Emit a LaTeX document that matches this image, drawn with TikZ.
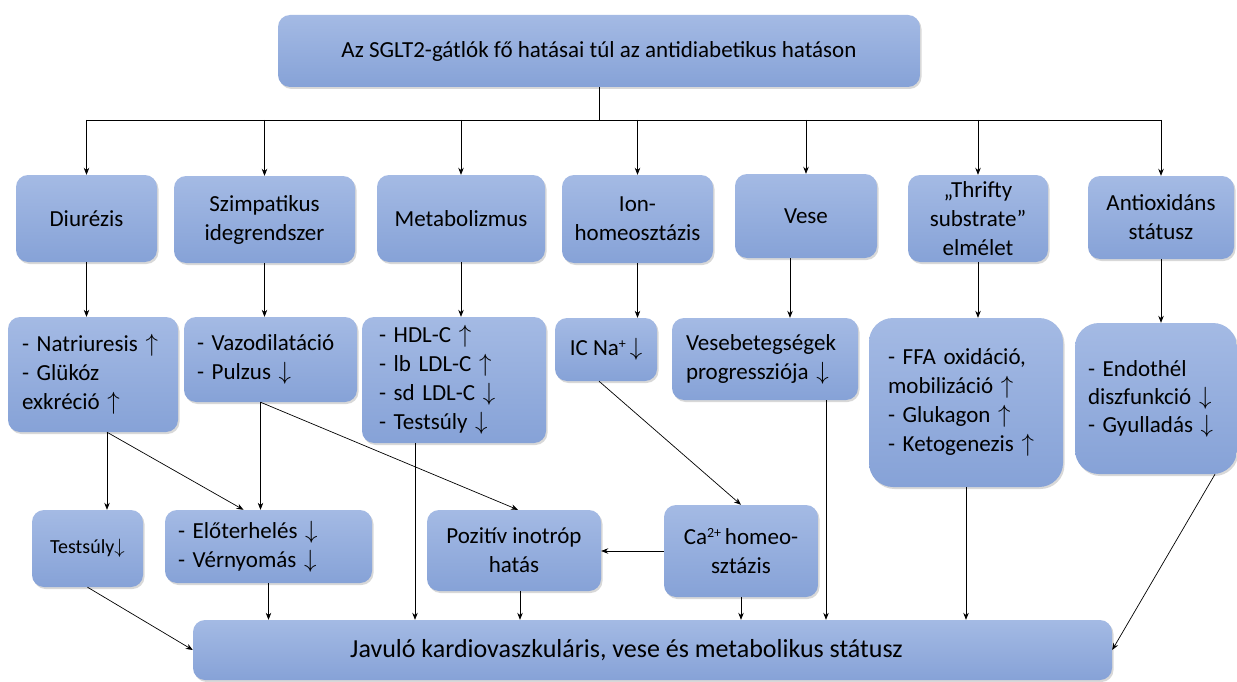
\documentclass[tikz,border=0pt]{standalone}
\usepackage{fontspec}
\setmainfont{Carlito}
\usetikzlibrary{arrows.meta,shadows,calc}
\definecolor{boxtop}{RGB}{164,186,228}
\definecolor{boxbot}{RGB}{134,162,215}
\newcommand{\supx}[1]{\raisebox{0.65ex}{\fontsize{14}{14}\selectfont #1}}
\begin{document}
\begin{tikzpicture}[x=1pt,y=-1pt,
  box/.style={rounded corners=12pt, top color=boxtop, bottom color=boxbot, draw=none,
    drop shadow={shadow xshift=1.5pt,shadow yshift=-2pt,opacity=.3},
    inner sep=0pt, align=center, font=\fontsize{23}{29}\selectfont},
  listbox/.style={box, align=left, text width=#1},
  arr/.style={-{Stealth[length=7pt,width=5.5pt]}, line width=0.7pt},
  ln/.style={line width=0.7pt}]
\path[use as bounding box, fill=white] (0,0) rectangle (1237,682);

% top
\node[box, minimum width=642pt, minimum height=72pt] (top) at (599,51) {Az SGLT2-gátlók fő hatásai túl az antidiabetikus hatáson};

% row 1
\node[box, minimum width=141pt, minimum height=87pt] (diur) at (86.5,218.5) {Diurézis};
\node[box, minimum width=181pt, minimum height=87pt] (szimp) at (264.5,219.5) {Szimpatikus\\idegrendszer};
\node[box, minimum width=168pt, minimum height=87pt] (metab) at (461,218.5) {Metabolizmus};
\node[box, minimum width=151pt, minimum height=88pt] (ion) at (637.5,219) {Ion-\\homeosztázis};
\node[box, minimum width=142pt, minimum height=84pt] (vese) at (806,216) {Vese};
\node[box, minimum width=140pt, minimum height=87pt] (thrifty) at (978,218.5) {„Thrifty\\substrate”\\elmélet};
\node[box, minimum width=146pt, minimum height=83pt] (antiox) at (1161,217.5) {Antioxidáns\\státusz};

% row 2
\node[listbox=142pt, minimum width=170pt, minimum height=115pt] (natr) at (93,374.5)
  {-~Natriuresis~$\uparrow$\\-~Glükóz\\exkréció~$\uparrow$};
\node[listbox=147pt, minimum width=173pt, minimum height=85pt] (vazo) at (270.5,359.5)
  {-~Vazodilatáció\\-~Pulzus~$\downarrow$};
\node[listbox=150pt, minimum width=184pt, minimum height=126pt] (hdl) at (454,380)
  {-~HDL-C~$\uparrow$\\-~lb~LDL-C~$\uparrow$\\-~sd~LDL-C~$\downarrow$\\-~Testsúly~$\downarrow$};
\node[box, minimum width=102pt, minimum height=63pt] (icna) at (606,349.5)
  {IC Na\supx{+}\,$\downarrow$};
\node[listbox=158pt, minimum width=186pt, minimum height=82pt] (vbet) at (765,359)
  {Vesebetegségek\\progressziója~$\downarrow$};
\node[listbox=156pt, minimum width=194pt, minimum height=169pt, rounded corners=24pt] (ffa) at (966,402.5)
  {-~FFA~oxidáció,\\mobilizáció~$\uparrow$\\-~Glukagon~$\uparrow$\\-~Ketogenezis~$\uparrow$};
\node[listbox=136pt, minimum width=162pt, minimum height=151pt, rounded corners=24pt,
  font=\fontsize{23}{28}\selectfont] (endo) at (1156,398.5)
  {-~Endothél\\diszfunkció~$\downarrow$\\-~Gyulladás~$\downarrow$\vphantom{p}};

% row 3
\node[box, minimum width=111pt, minimum height=77pt, font=\fontsize{20}{24}\selectfont] (test) at (87.5,548.5)
  {Testsúly$\downarrow$};
\node[listbox=181pt, minimum width=207pt, minimum height=73pt] (elo) at (268.5,546.5)
  {-~Előterhelés~$\downarrow$\\-~Vérnyomás~$\downarrow$};
\node[box, minimum width=174pt, minimum height=81pt] (poz) at (514,550.5)
  {Pozitív inotróp\\hatás};
\node[box, minimum width=154pt, minimum height=92pt] (ca) at (741,551)
  {Ca\supx{2+}\,homeo-\\sztázis};

% bottom
\node[box, minimum width=919pt, minimum height=60pt, font=\fontsize{26}{30}\selectfont] (bot) at (652.5,650)
  {Javuló kardiovaszkuláris, vese és metabolikus státusz\hspace{52pt}\mbox{}};

% top connectors
\coordinate (hub) at (600,120);
\draw[ln] (top.south) -- (top.south |- hub);
\draw[ln] (diur.north |- hub) -- (antiox.north |- hub);
\foreach \n in {diur,szimp,metab,ion,vese,thrifty,antiox}
  \draw[arr] (\n.north |- hub) -- (\n.north);

% row1 -> row2
\draw[arr] (diur.south) -- (diur.south |- natr.north);
\draw[arr] (szimp.south) -- (szimp.south |- vazo.north);
\draw[arr] (metab.south) -- (metab.south |- hdl.north);
\draw[arr] (ion.south) -- (ion.south |- icna.north);
\draw[arr] ([xshift=-16pt]vese.south) -- ([xshift=-16pt]vese.south |- vbet.north);
\draw[arr] (thrifty.south) -- (thrifty.south |- ffa.north);
\draw[arr] (antiox.south) -- (antiox.south |- endo.north);

% row2 -> row3
\coordinate (natrb) at ([xshift=14pt]natr.south);
\coordinate (vazob) at ([xshift=-10pt]vazo.south);
\draw[arr] (natrb) -- (natrb |- test.north);
\draw[arr] (natrb) -- ([xshift=-25pt]elo.north);
\draw[arr] (vazob) -- (vazob |- elo.north);
\draw[arr] (vazob) -- ([xshift=4pt]poz.north);
\draw[arr] ([xshift=-39pt]hdl.south) -- ([xshift=-39pt]hdl.south |- bot.north);
\draw[arr] ([xshift=-7pt]icna.south) -- (ca.north);
\draw[arr] ([xshift=61pt]vbet.south) -- ([xshift=61pt]vbet.south |- bot.north);
\draw[arr] (ffa.south) -- (ffa.south |- bot.north);
\draw[arr] ([xshift=59pt]endo.south) -- (bot.east);
\draw[arr] (ca.west) -- (ca.west -| poz.east);

% row3 -> bottom
\draw[arr] (test.south) -- (bot.west);
\draw[arr] (elo.south) -- (elo.south |- bot.north);
\draw[arr] ([xshift=6pt]poz.south) -- ([xshift=6pt]poz.south |- bot.north);
\draw[arr] (ca.south) -- (ca.south |- bot.north);
\end{tikzpicture}
\end{document}
